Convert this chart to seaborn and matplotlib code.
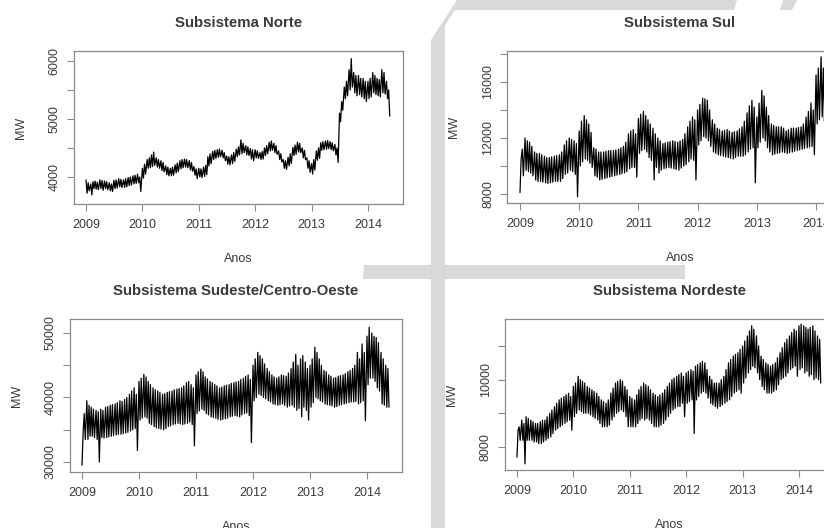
import numpy as np
import pandas as pd
import matplotlib
matplotlib.use("Agg")
import matplotlib.pyplot as plt
from matplotlib.patches import Polygon
import seaborn as sns

# ---------------------------------------------------------------------------
# Weekly load readings (MW), Jan 2009 - May 2014.
# Each row is one month, read on days 1, 8, 15 and 22.
# ---------------------------------------------------------------------------
months = pd.date_range("2009-01-01", "2014-05-01", freq="MS")
dates = pd.DatetimeIndex([m + pd.Timedelta(days=d) for m in months for d in (0, 7, 14, 21)])
years = np.asarray(dates.year + (dates.dayofyear - 1) / 365.25)

norte = [
    3950, 3720, 3900, 3760,  3880, 3690, 3920, 3800,  3930, 3790, 3910, 3780,
    3950, 3800, 3940, 3770,  3930, 3800, 3920, 3780,  3900, 3760, 3880, 3750,
    3940, 3800, 3950, 3810,  3970, 3830, 3960, 3820,  3950, 3820, 3970, 3830,
    3990, 3850, 4000, 3860,  4020, 3880, 4030, 3890,  4050, 3900, 4000, 3750,
    4150, 3980, 4220, 4050,  4300, 4150, 4330, 4160,  4380, 4180, 4430, 4200,
    4330, 4170, 4300, 4150,  4280, 4110, 4250, 4090,  4190, 4040, 4170, 4020,
    4150, 4020, 4170, 4030,  4210, 4070, 4240, 4090,  4280, 4140, 4300, 4160,
    4310, 4170, 4300, 4160,  4280, 4120, 4250, 4100,  4180, 4030, 4140, 3970,
    4150, 4000, 4140, 3990,  4170, 4010, 4200, 4040,  4350, 4190, 4400, 4230,
    4440, 4300, 4460, 4320,  4470, 4340, 4480, 4350,  4460, 4330, 4420, 4280,
    4360, 4220, 4350, 4210,  4380, 4230, 4420, 4270,  4480, 4350, 4520, 4380,
    4640, 4400, 4580, 4420,  4540, 4380, 4520, 4370,  4490, 4310, 4470, 4280,
    4470, 4330, 4450, 4320,  4420, 4300, 4440, 4310,  4500, 4370, 4540, 4400,
    4600, 4450, 4620, 4460,  4580, 4420, 4540, 4390,  4450, 4300, 4400, 4260,
    4300, 4150, 4280, 4130,  4340, 4190, 4400, 4230,  4510, 4370, 4550, 4390,
    4600, 4430, 4580, 4420,  4500, 4330, 4460, 4300,  4330, 4150, 4280, 4080,
    4230, 4050, 4300, 4120,  4450, 4290, 4500, 4320,  4590, 4460, 4610, 4470,
    4620, 4480, 4630, 4490,  4610, 4470, 4590, 4450,  4560, 4380, 4500, 4250,
    5100, 4950, 5300, 5150,  5550, 5350, 5650, 5400,  5850, 5500, 6040, 5550,
    5800, 5450, 5750, 5400,  5750, 5420, 5700, 5380,  5700, 5350, 5650, 5300,
    5650, 5350, 5700, 5380,  5800, 5450, 5750, 5420,  5700, 5400, 5680, 5380,
    5850, 5450, 5800, 5430,  5650, 5350, 5500, 5050,
]

sul = [
    8100, 10500, 11200, 9300,  12000, 9700, 11800, 9600,  11700, 9500, 11400, 9300,
    11000, 9000, 10900, 8900,  10900, 8900, 10800, 8850,  10700, 8800, 10600, 8750,
    10600, 8800, 10650, 8850,  10700, 8900, 10750, 8900,  10800, 8900, 11000, 9100,
    11500, 9400, 11800, 9500,  12000, 9700, 11900, 9600,  11800, 9400, 11600, 7800,
    12500, 10000, 13200, 10300,  13600, 10500, 13300, 10400,  13000, 10200, 12400, 9900,
    11300, 9300, 11200, 9200,  11000, 9000, 11000, 9050,  11000, 9100, 11050, 9150,
    11100, 9200, 11100, 9250,  11100, 9300, 11150, 9350,  11200, 9400, 11300, 9450,
    11400, 9500, 11700, 9600,  12300, 9800, 12500, 9900,  12600, 9900, 12300, 9200,
    13400, 10900, 13700, 11100,  13900, 11200, 13600, 11000,  13300, 10600, 13000, 10400,
    12700, 9000, 12300, 9900,  12000, 9500, 11800, 9700,  11600, 9800, 11650, 9850,
    11700, 9900, 11750, 9850,  11800, 9800, 11750, 9750,  11700, 9700, 11800, 9850,
    11900, 10000, 12300, 10100,  12800, 10300, 13200, 10500,  13500, 10400, 13300, 9000,
    14000, 11500, 14400, 11800,  14850, 12100, 14800, 12000,  14700, 11800, 14000, 11400,
    13300, 11000, 13000, 10900,  12700, 10800, 12600, 10750,  12500, 10700, 12550, 10650,
    12600, 10600, 12500, 10550,  12400, 10500, 12450, 10600,  12500, 10700, 12650, 10700,
    12800, 10700, 13200, 10800,  13800, 11000, 14300, 11200,  14700, 11300, 14200, 8800,
    13500, 11300, 14500, 11700,  15400, 12000, 15000, 11800,  14200, 11300, 13600, 11000,
    13000, 10800, 12900, 10850,  12800, 10900, 12800, 10950,  12800, 11000, 12700, 10950,
    12500, 10900, 12600, 10950,  12700, 11000, 12700, 11050,  12700, 11100, 12750, 11150,
    12800, 11200, 13000, 11250,  13500, 11300, 13900, 11350,  14500, 11400, 14000, 10800,
    16500, 13000, 17000, 13300,  17800, 13500, 17000, 13200,  15500, 12500, 14800, 12200,
    13500, 11500, 13300, 11400,  13000, 11000, 12900, 10900,
]

sudeste = [
    29500, 34500, 37500, 33500,  39500, 33500, 38800, 34000,  38500, 34000, 38200, 33800,
    38000, 33500, 37800, 30000,  38200, 33800, 38000, 33700,  38500, 33800, 38600, 33900,
    38800, 34000, 38900, 34100,  39000, 34200, 39200, 34300,  39500, 34300, 39400, 34400,
    39700, 34500, 40000, 34600,  40500, 34800, 41000, 35000,  41500, 35200, 40500, 31800,
    42500, 36500, 43000, 36800,  43600, 37000, 43200, 36800,  42500, 36000, 42000, 35800,
    41500, 35500, 41200, 35300,  41000, 35200, 40800, 35100,  40500, 35000, 40600, 35200,
    40800, 35500, 40900, 35600,  41000, 35800, 41200, 35900,  41300, 36000, 41400, 35900,
    41500, 35800, 41800, 35900,  42300, 36000, 42500, 36200,  42000, 35800, 41500, 32500,
    43500, 37500, 44000, 37900,  44400, 38200, 44000, 38000,  43200, 37500, 42900, 37300,
    42500, 37000, 42300, 36900,  42000, 36800, 41800, 36600,  41500, 36500, 41600, 36600,
    41800, 36700, 41900, 36800,  42000, 37000, 42200, 37100,  42300, 37200, 42400, 37100,
    42500, 37000, 42800, 37300,  43000, 37500, 43300, 37600,  43500, 37200, 42800, 33000,
    45000, 39500, 46000, 40000,  47000, 40500, 46500, 40300,  46000, 40000, 45200, 39800,
    44500, 39500, 44000, 39300,  43500, 39000, 43200, 38900,  43000, 38800, 43200, 38900,
    43500, 39000, 43400, 38800,  43300, 38500, 43800, 38700,  44500, 38800, 45500, 38500,
    46700, 38000, 45000, 38300,  46000, 37000, 46500, 38500,  45500, 38000, 44500, 36500,
    45000, 38500, 46000, 39200,  47800, 40000, 47000, 39800,  46000, 39500, 45000, 39300,
    44200, 39000, 44000, 38900,  43500, 38800, 43300, 38700,  43000, 38500, 43100, 38600,
    43300, 38800, 43400, 38900,  43500, 39000, 43700, 39100,  44000, 39200, 44200, 39300,
    44500, 39300, 45000, 39400,  47000, 39000, 46000, 39200,  48300, 39500, 47000, 36400,
    49500, 42000, 50900, 43000,  50000, 43000, 49500, 42500,  49300, 41500, 48500, 41000,
    47000, 39000, 46000, 38800,  45000, 38500, 44500, 38500,
]

nordeste = [
    7700, 8500, 8600, 8200,  8800, 8200, 8700, 7500,  8900, 8200, 8850, 8200,
    8800, 8200, 8750, 8150,  8700, 8150, 8700, 8100,  8750, 8100, 8800, 8150,
    8800, 8200, 8900, 8250,  9000, 8300, 9100, 8400,  9200, 8500, 9300, 8550,
    9400, 8600, 9450, 8650,  9500, 8700, 9550, 8750,  9600, 8800, 9500, 8500,
    9800, 8900, 9900, 9000,  10100, 9100, 10000, 9050,  9950, 9000, 9900, 9000,
    9800, 9000, 9750, 8950,  9700, 8900, 9650, 8850,  9600, 8800, 9500, 8700,
    9400, 8600, 9350, 8600,  9300, 8600, 9400, 8650,  9600, 8800, 9750, 8900,
    9900, 9000, 9950, 9050,  10000, 9100, 9950, 9050,  9800, 8900, 9700, 8600,
    9500, 8600, 9450, 8600,  9400, 8600, 9550, 8700,  9700, 8800, 9800, 8850,
    9900, 8800, 9850, 8850,  9800, 8800, 9700, 8700,  9600, 8600, 9550, 8600,
    9500, 8600, 9550, 8650,  9600, 8700, 9700, 8800,  9800, 8900, 9900, 9000,
    10000, 9100, 10050, 9150,  10100, 9200, 10150, 9200,  10200, 9300, 10100, 8900,
    10200, 9300, 10250, 9350,  10300, 9400, 10250, 8400,  10400, 9400, 10450, 9500,
    10500, 9600, 10550, 9650,  10500, 9600, 10300, 9450,  10100, 9300, 10000, 9250,
    9900, 9200, 9900, 9150,  9900, 9200, 10000, 9250,  10100, 9300, 10300, 9350,
    10500, 9400, 10600, 9500,  10700, 9600, 10750, 9650,  10800, 9700, 10900, 9600,
    11000, 9900, 11150, 10050,  11300, 10200, 11450, 10300,  11600, 10400, 11500, 10350,
    11300, 10200, 11000, 10000,  10700, 9800, 10600, 9700,  10500, 9600, 10450, 9600,
    10400, 9600, 10450, 9650,  10500, 9700, 10650, 9850,  10800, 10000, 10950, 10050,
    11100, 10100, 11200, 10200,  11300, 10300, 11400, 10350,  11500, 10400, 11450, 10100,
    11600, 10300, 11650, 10350,  11600, 10200, 11550, 10250,  11500, 10100, 11550, 10150,
    11600, 10000, 11450, 10050,  11300, 10000, 11200, 9900,
]

titles = [
    "Subsistema Norte",
    "Subsistema Sul",
    "Subsistema Sudeste/Centro-Oeste",
    "Subsistema Nordeste",
]
year_ticks = [2009, 2010, 2011, 2012, 2013, 2014]

norte_ticks = [4000, 4500, 5000, 5500, 6000]
norte_labels = ["4000", "", "5000", "", "6000"]
sul_ticks = [8000, 10000, 12000, 14000, 16000, 18000]
sul_labels = ["8000", "", "12000", "", "16000", ""]
sudeste_ticks = [30000, 35000, 40000, 45000, 50000]
sudeste_labels = ["30000", "", "40000", "", "50000"]
nordeste_ticks = [8000, 9000, 10000, 11000]
nordeste_labels = ["8000", "", "10000", ""]

# ---------------------------------------------------------------------------
W, H = 824, 528
sns.set_theme(style="white")
plt.rcParams["font.family"] = ["Liberation Sans", "DejaVu Sans"]

fig = plt.figure(figsize=(W / 100, H / 100), dpi=100)
fig.patch.set_facecolor("white")

GRAY = "#d9d9db"


def px_poly(points):
    return [(x / W, 1 - y / H) for x, y in points]


# light-gray decorative frame behind the panels
shapes = [
    [(457, 0), (737, 0), (734, 10), (455, 10), (445, 25), (445, 528),
     (431, 528), (431, 40)],
    [(783, 0), (797, 0), (792, 10), (780, 10)],
    [(364, 265), (685, 265), (685, 279), (363, 279)],
]
for pts in shapes:
    fig.add_artist(Polygon(px_poly(pts), closed=True, facecolor=GRAY,
                           edgecolor="none", transform=fig.transFigure,
                           zorder=0))

XLIM = (2008.784, 2014.616)

# panel frames in pixels: left, top, width, height
panels = [
    (norte, (73.8, 51, 328.9, 153), (3534, 6172), norte_ticks, norte_labels),
    (sul, (507.2, 51, 345.3, 152), (7357, 18214), sul_ticks, sul_labels),
    (sudeste, (69.7, 319, 332.4, 153), (28450, 52170), sudeste_ticks, sudeste_labels),
    (nordeste, (504.8, 319, 328.9, 151), (7317, 11802), nordeste_ticks, nordeste_labels),
]

AXC = "#8a8a8a"
TXT = "#3a3a3a"

for title, (vals, (l, t, w, h), ylim, yt, yl) in zip(titles, panels):
    ax = fig.add_axes([l / W, 1 - (t + h) / H, w / W, h / H])
    ax.set_facecolor("white")
    sns.lineplot(x=years, y=np.asarray(vals, dtype=float), ax=ax,
                 color="black", linewidth=0.9)
    ax.set_xlim(*XLIM)
    ax.set_ylim(*ylim)
    ax.set_xticks(year_ticks)
    ax.set_xticklabels([str(y) for y in year_ticks], fontsize=9, color=TXT)
    ax.set_yticks(yt)
    ax.set_yticklabels(yl, fontsize=9, color=TXT, rotation=90, va="center")
    ax.tick_params(axis="both", direction="out", length=5, width=0.8,
                   color=AXC, bottom=True, left=True)
    ax.tick_params(axis="x", pad=6)
    ax.tick_params(axis="y", pad=4.5)
    for s in ax.spines.values():
        s.set_visible(True)
        s.set_color(AXC)
        s.set_linewidth(0.9)
    ax.set_title(title, fontsize=10.8, fontweight="bold", color=TXT, pad=17)
    ax.set_xlabel("Anos", fontsize=9, color=TXT)
    ax.set_ylabel("MW", fontsize=9, color=TXT)
    ax.xaxis.set_label_coords(0.5, -49 / h)
    ax.yaxis.set_label_coords(-47 / w, 0.5)

fig.savefig("out.png", dpi=100, facecolor="white")
